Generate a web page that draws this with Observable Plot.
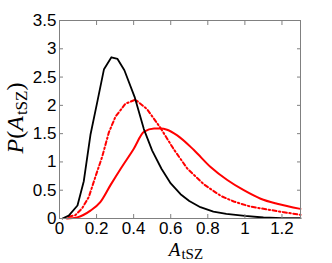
<!DOCTYPE html>
<html>
<head>
<meta charset="utf-8">
<script src="https://cdn.jsdelivr.net/npm/d3@7"></script>
<script src="https://cdn.jsdelivr.net/npm/@observablehq/plot@0.6"></script>
<style>
  html, body { margin: 0; padding: 0; background: #fff; }
</style>
</head>
<body>
<div id="chart"></div>
<script>
// Black solid curve
const blackX = [0.016,0.05,0.097,0.131,0.167,0.205,0.24,0.28,0.313,0.35,0.405,0.455,0.5,0.55,0.6,0.653,0.7,0.76,0.83,0.9,1.0,1.1,1.2,1.3];
const blackY = [0,0.05,0.23,0.66,1.48,2.08,2.64,2.85,2.82,2.62,2.15,1.58,1.2,0.88,0.62,0.43,0.31,0.2,0.12,0.08,0.045,0.018,0.008,0.005];
// Red solid curve
const redX = [0.04,0.095,0.167,0.22,0.275,0.33,0.4,0.455,0.51,0.545,0.58,0.635,0.725,0.815,0.905,0.994,1.085,1.174,1.3];
const redY = [0,0.02,0.14,0.29,0.59,0.88,1.23,1.53,1.59,1.59,1.57,1.47,1.21,0.91,0.68,0.50,0.35,0.26,0.17];
// Red dash-dot curve
const dashX = [0.05,0.086,0.122,0.158,0.194,0.23,0.266,0.302,0.356,0.41,0.473,0.545,0.617,0.69,0.78,0.87,0.94,1.03,1.12,1.21,1.3];
const dashY = [0.03,0.06,0.18,0.38,0.74,1.09,1.52,1.8,2.03,2.10,1.93,1.60,1.22,0.88,0.60,0.40,0.30,0.21,0.16,0.11,0.065];

const xTicks = [0,0.2,0.4,0.6,0.8,1,1.2];
const yTicks = [0,0.5,1,1.5,2,2.5,3,3.5];

const toRows = (xs, ys) => xs.map((x, i) => ({x, y: ys[i]}));
const black = toRows(blackX, blackY);
const red = toRows(redX, redY);
const dash = toRows(dashX, dashY);

const gray = "#808080";
const fmt = d => String(d);
const blank = () => "";

const svg = Plot.plot({
  width: 332,
  height: 263,
  marginLeft: 59,
  marginRight: 32,
  marginTop: 20,
  marginBottom: 45,
  style: {fontFamily: "'Liberation Sans', Arial, sans-serif", fontSize: "17px", background: "#fff", color: "#000"},
  x: {domain: [0, 1.3]},
  y: {domain: [0, 3.5]},
  marks: [
    Plot.line(dash, {x: "x", y: "y", stroke: "#ff0000", strokeWidth: 2, strokeDasharray: "4,2.5,1.5,2.5"}),
    Plot.line(red, {x: "x", y: "y", stroke: "#ff0000", strokeWidth: 2, curve: "monotone-x"}),
    Plot.line(black, {x: "x", y: "y", stroke: "#000", strokeWidth: 1.8}),
    Plot.frame({stroke: gray}),
    Plot.axisX(xTicks, {anchor: "bottom", tickSize: 4, dy: -4, stroke: gray, tickFormat: blank, label: null}),
    Plot.axisX(xTicks, {anchor: "top", tickSize: 4, dy: 4, stroke: gray, tickFormat: blank, label: null}),
    Plot.axisY(yTicks, {anchor: "left", tickSize: 4, dx: 4, stroke: gray, tickFormat: blank, label: null}),
    Plot.axisY(yTicks, {anchor: "right", tickSize: 4, dx: -4, stroke: gray, tickFormat: blank, label: null}),
    Plot.axisX(xTicks, {anchor: "bottom", tickSize: 0, tickPadding: 3, tickFormat: fmt, label: null, fill: "#000"}),
    Plot.axisY(yTicks, {anchor: "left", tickSize: 0, tickPadding: 3, tickFormat: fmt, label: null, fill: "#000"})
  ]
});
document.getElementById("chart").appendChild(svg);

const s = d3.select(svg);
// x-axis label
const xl = s.append("text")
  .attr("x", 186).attr("y", 256)
  .attr("text-anchor", "middle")
  .style("font-family", "'Liberation Serif', 'Times New Roman', serif")
  .style("font-size", "19px")
  .attr("fill", "#000");
xl.append("tspan").style("font-style", "italic").text("A");
xl.append("tspan").attr("dy", 3).attr("dx", 1).style("font-size", "15px").text("tSZ");

// y-axis label
const yl = s.append("text")
  .attr("transform", "translate(23,118) rotate(-90)")
  .attr("text-anchor", "middle")
  .style("font-family", "'Liberation Serif', 'Times New Roman', serif")
  .style("font-size", "24px")
  .attr("fill", "#000");
yl.append("tspan").style("font-style", "italic").text("P");
yl.append("tspan").text("(");
yl.append("tspan").style("font-style", "italic").text("A");
yl.append("tspan").attr("dy", 4).attr("dx", 1).style("font-size", "17px").text("tSZ");
yl.append("tspan").attr("dy", -4).text(")");
</script>
</body>
</html>
